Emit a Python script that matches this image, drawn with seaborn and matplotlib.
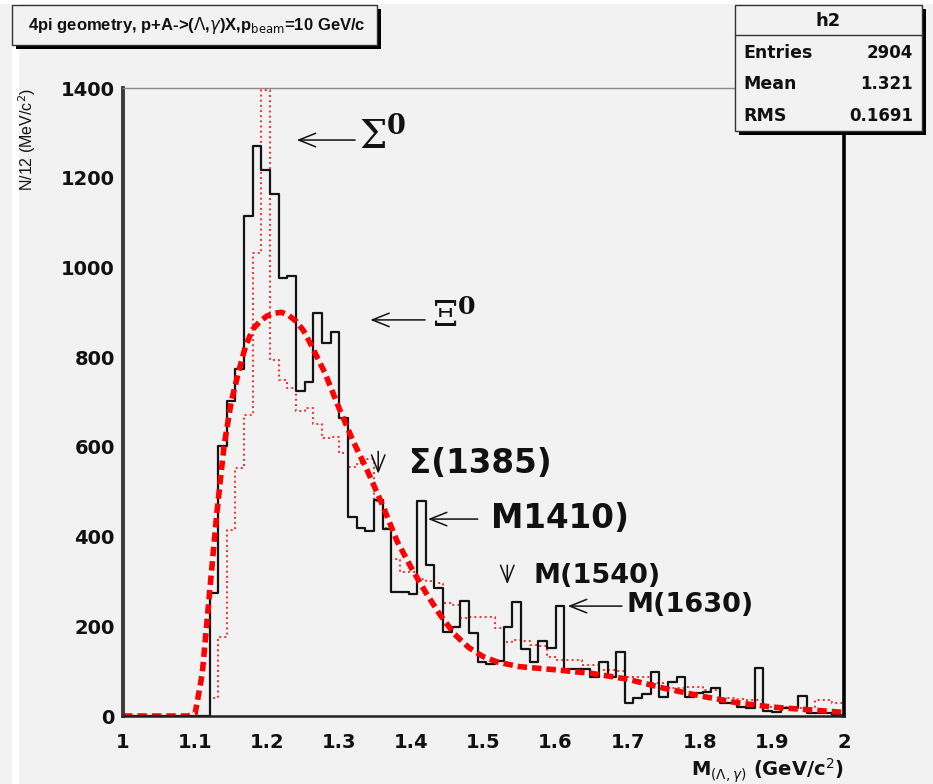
import numpy as np
import pandas as pd
import matplotlib
matplotlib.use("Agg")
import matplotlib.pyplot as plt
from matplotlib.patches import Rectangle
from matplotlib.ticker import MultipleLocator, FixedLocator, FixedFormatter
import seaborn as sns

# ---- data -------------------------------------------------------------
# 12 MeV/c^2 bins between 1 and 2 GeV/c^2
bin_edges = [float(v) for v in np.append(1.0 + 0.012 * np.arange(84), 2.0)]
bin_centers = [0.5 * (a + b) for a, b in zip(bin_edges[:-1], bin_edges[1:])]

# measured (Lambda, gamma) invariant-mass spectrum, counts per bin
black_counts = [
    0, 0, 0, 0, 0, 0, 0, 0, 0, 0,
    274, 602, 702, 773, 1115, 1271, 1217, 1164, 976, 981,
    725, 745, 898, 831, 857, 664, 443, 419, 413, 481,
    417, 276, 276, 272, 479, 337, 286, 188, 198, 256,
    186, 121, 117, 123, 198, 255, 149, 121, 167, 151,
    245, 104, 104, 104, 87, 121, 88, 143, 30, 40,
    50, 97, 42, 76, 87, 42, 51, 54, 62, 29,
    29, 20, 18, 107, 12, 9, 18, 18, 45, 7,
    7, 7, 3, 0,
]

# reference spectrum (thin dotted histogram)
red_counts = [
    0, 0, 0, 0, 0, 0, 0, 0, 0, 0,
    40, 176, 415, 553, 671, 1033, 1396, 794, 750, 731,
    680, 686, 650, 620, 622, 586, 555, 564, 573, 480,
    420, 350, 322, 320, 305, 300, 296, 252, 247, 218,
    221, 221, 221, 196, 165, 170, 168, 158, 155, 132,
    125, 125, 125, 114, 114, 103, 103, 100, 87, 87,
    87, 73, 73, 62, 62, 65, 65, 58, 58, 40,
    40, 38, 36, 36, 20, 20, 20, 20, 18, 18,
    36, 36, 29, 29,
]

# background curve (thick dashed)
fit_mass = [1.00, 1.09, 1.10, 1.11, 1.12, 1.13, 1.14, 1.15, 1.16, 1.17,
            1.18, 1.19, 1.20, 1.21, 1.22, 1.23, 1.24, 1.25, 1.26, 1.28,
            1.30, 1.32, 1.34, 1.36, 1.38, 1.40, 1.42, 1.44, 1.46, 1.48,
            1.50, 1.52, 1.55, 1.60, 1.65, 1.70, 1.75, 1.80, 1.85, 1.90,
            1.95, 2.00]
fit_counts = [0, 0, 5, 95, 274, 450, 600, 700, 765, 825,
              862, 880, 892, 898, 900, 893, 880, 860, 830, 765,
              685, 610, 543, 470, 390, 330, 275, 225, 182, 152,
              132, 120, 110, 103, 95, 82, 62, 45, 30, 20,
              14, 8]

x_tick_values = [1.0, 1.1, 1.2, 1.3, 1.4, 1.5, 1.6, 1.7, 1.8, 1.9, 2.0]
x_tick_labels = ["1", "1.1", "1.2", "1.3", "1.4", "1.5", "1.6", "1.7", "1.8", "1.9", "2"]
y_tick_values = [0, 200, 400, 600, 800, 1000, 1200, 1400]

stats_labels = ["Entries", "Mean", "RMS"]
stats_values = ["2904", "1.321", "0.1691"]

# ---- style ------------------------------------------------------------
sns.set_theme(style="white")
plt.rcParams["font.family"] = ["DejaVu Sans"]
plt.rcParams["mathtext.fontset"] = "dejavusans"

BG = "#f2f2f2"
INK = "#111111"
W, H = 933, 784
fig = plt.figure(figsize=(W / 100, H / 100), dpi=100, facecolor=BG)

def fx(px):
    return px / W

def fy(py):
    return 1 - py / H

# light bevel strips of the canvas
fig.add_artist(Rectangle((0, fy(4)), 1, 4 / H, transform=fig.transFigure,
                         facecolor="white", edgecolor="none", zorder=0))
fig.add_artist(Rectangle((fx(12), 0), 7 / W, 1, transform=fig.transFigure,
                         facecolor="white", edgecolor="none", zorder=0))

ax = fig.add_axes([fx(123), fy(716), 721 / W, 628 / H])
ax.set_facecolor(BG)

hist_df = pd.DataFrame({"mass": bin_centers, "measured": black_counts, "reference": red_counts})
fit_df = pd.DataFrame({"mass": fit_mass, "fit": fit_counts})

sns.histplot(data=hist_df, x="mass", weights="reference", bins=bin_edges,
             element="step", fill=False, color="#ff2a2a", linestyle=":",
             linewidth=1.4, ax=ax)
sns.histplot(data=hist_df, x="mass", weights="measured", bins=bin_edges,
             element="step", fill=False, color="#141414", linewidth=1.6, ax=ax)
sns.lineplot(data=fit_df, x="mass", y="fit", color="#ff0000", linewidth=4.0,
             linestyle=(0, (1.7, 0.9)), ax=ax)

ax.set_xlim(1.0, 2.0)
ax.set_ylim(0, 1400)

ax.xaxis.set_major_locator(FixedLocator(x_tick_values))
ax.xaxis.set_major_formatter(FixedFormatter(x_tick_labels))
ax.xaxis.set_minor_locator(MultipleLocator(0.02))
ax.yaxis.set_major_locator(FixedLocator(y_tick_values))
ax.yaxis.set_minor_locator(MultipleLocator(50))

ax.tick_params(axis="x", which="major", direction="in", length=12.5, width=1.2,
               color="#222222", pad=12, labelsize=14, labelcolor=INK)
ax.tick_params(axis="x", which="minor", direction="in", length=6.5, width=1.2,
               color="#444444")
ax.tick_params(axis="y", which="major", direction="in", length=16.5, width=1.2,
               color="#222222", pad=6, labelsize=14, labelcolor=INK)
ax.tick_params(axis="y", which="minor", direction="in", length=8.5, width=1.2,
               color="#444444")
ax.tick_params(top=False, right=False, which="both")
for lab in ax.get_xticklabels() + ax.get_yticklabels():
    lab.set_fontweight("bold")

ax.spines["left"].set(color="#3a3a3a", linewidth=2.8)
ax.spines["bottom"].set(color="#222222", linewidth=1.8)
ax.spines["top"].set(color="#8a8a8a", linewidth=1.0)
ax.spines["right"].set(color="#000000", linewidth=2.6)

ax.set_xlabel(r"M$_{(\Lambda,\gamma)}$ (GeV/c$^{2}$)", loc="right",
              fontsize=14, fontweight="bold", color=INK)
ax.xaxis.set_label_coords(1.0, -0.064)
ax.set_ylabel(r"N/12 (MeV/c$^{2}$)", loc="top", fontsize=11.5,
              family=["Liberation Sans", "DejaVu Sans"], color=INK)
ax.yaxis.set_label_coords(-0.118, 1.0)

# ---- resonance markers -------------------------------------------------
arrow_kw = dict(arrowstyle="->,head_length=0.55,head_width=0.22", color=INK,
                lw=1.1, mutation_scale=22, shrinkA=0, shrinkB=0)

ax.annotate("", xy=(1.241, 1284), xytext=(1.322, 1284), arrowprops=arrow_kw)
ax.text(1.328, 1292, r"$\Sigma^{\mathbf{0}}$", fontsize=28, va="center", ha="left",
        math_fontfamily="dejavuserif", color=INK)

ax.annotate("", xy=(1.343, 883), xytext=(1.419, 883), arrowprops=arrow_kw)
ax.text(1.428, 890, r"$\Xi^{\mathbf{0}}$", fontsize=26, va="center", ha="left",
        math_fontfamily="dejavuserif", color=INK)

ax.annotate("", xy=(1.354, 540), xytext=(1.354, 590), arrowprops=arrow_kw)
ax.text(1.396, 562, "\u03a3(1385)", fontsize=23.5, fontweight="bold",
        va="center", ha="left", color=INK)

ax.annotate("", xy=(1.423, 439), xytext=(1.492, 439), arrowprops=arrow_kw)
ax.text(1.511, 441, "M1410)", fontsize=23.5, fontweight="bold",
        va="center", ha="left", color=INK)

ax.annotate("", xy=(1.533, 294), xytext=(1.533, 336), arrowprops=arrow_kw)
ax.text(1.569, 312, "M(1540)", fontsize=19.5, fontweight="bold",
        va="center", ha="left", color=INK)

ax.annotate("", xy=(1.617, 245), xytext=(1.692, 245), arrowprops=arrow_kw)
ax.text(1.699, 247, "M(1630)", fontsize=19.5, fontweight="bold",
        va="center", ha="left", color=INK)

# ---- title box -----------------------------------------------------------
def framed_box(x0, y0, x1, y1):
    shadow = 4
    fig.add_artist(Rectangle((fx(x0 + shadow), fy(y1 + shadow)),
                             (x1 - x0) / W, (y1 - y0) / H,
                             transform=fig.transFigure, facecolor="#000000",
                             edgecolor="none", zorder=5))
    fig.add_artist(Rectangle((fx(x0), fy(y1)), (x1 - x0) / W, (y1 - y0) / H,
                             transform=fig.transFigure, facecolor=BG,
                             edgecolor="#333333", linewidth=1.0, zorder=6))

framed_box(12, 5, 377, 45)
fig.text(fx(28), fy(25),
         r"4pi geometry, p+A->($\Lambda$,$\gamma$)X,p$_{\mathrm{beam}}$=10 GeV/c",
         fontsize=12, fontweight="bold", family=["Liberation Sans", "DejaVu Sans"],
         va="center", ha="left", color=INK, zorder=7)

# ---- statistics box ------------------------------------------------------
framed_box(735, 5, 922, 131)
fig.add_artist(plt.Line2D([fx(735), fx(922)], [fy(35), fy(35)],
                          transform=fig.transFigure, color="#333333",
                          linewidth=1.0, zorder=7))
fig.text(fx(828), fy(21), "h2", fontsize=13, fontweight="bold",
         va="center", ha="center", color=INK, zorder=7)
for row_y, lab, val in zip([53, 84, 116], stats_labels, stats_values):
    fig.text(fx(743), fy(row_y), lab, fontsize=12.5, fontweight="bold",
             va="center", ha="left", color=INK, zorder=7)
    fig.text(fx(913), fy(row_y), val, fontsize=12, fontweight="bold",
             va="center", ha="right", color=INK, zorder=7)

fig.savefig("out.png", dpi=100, facecolor=BG)
